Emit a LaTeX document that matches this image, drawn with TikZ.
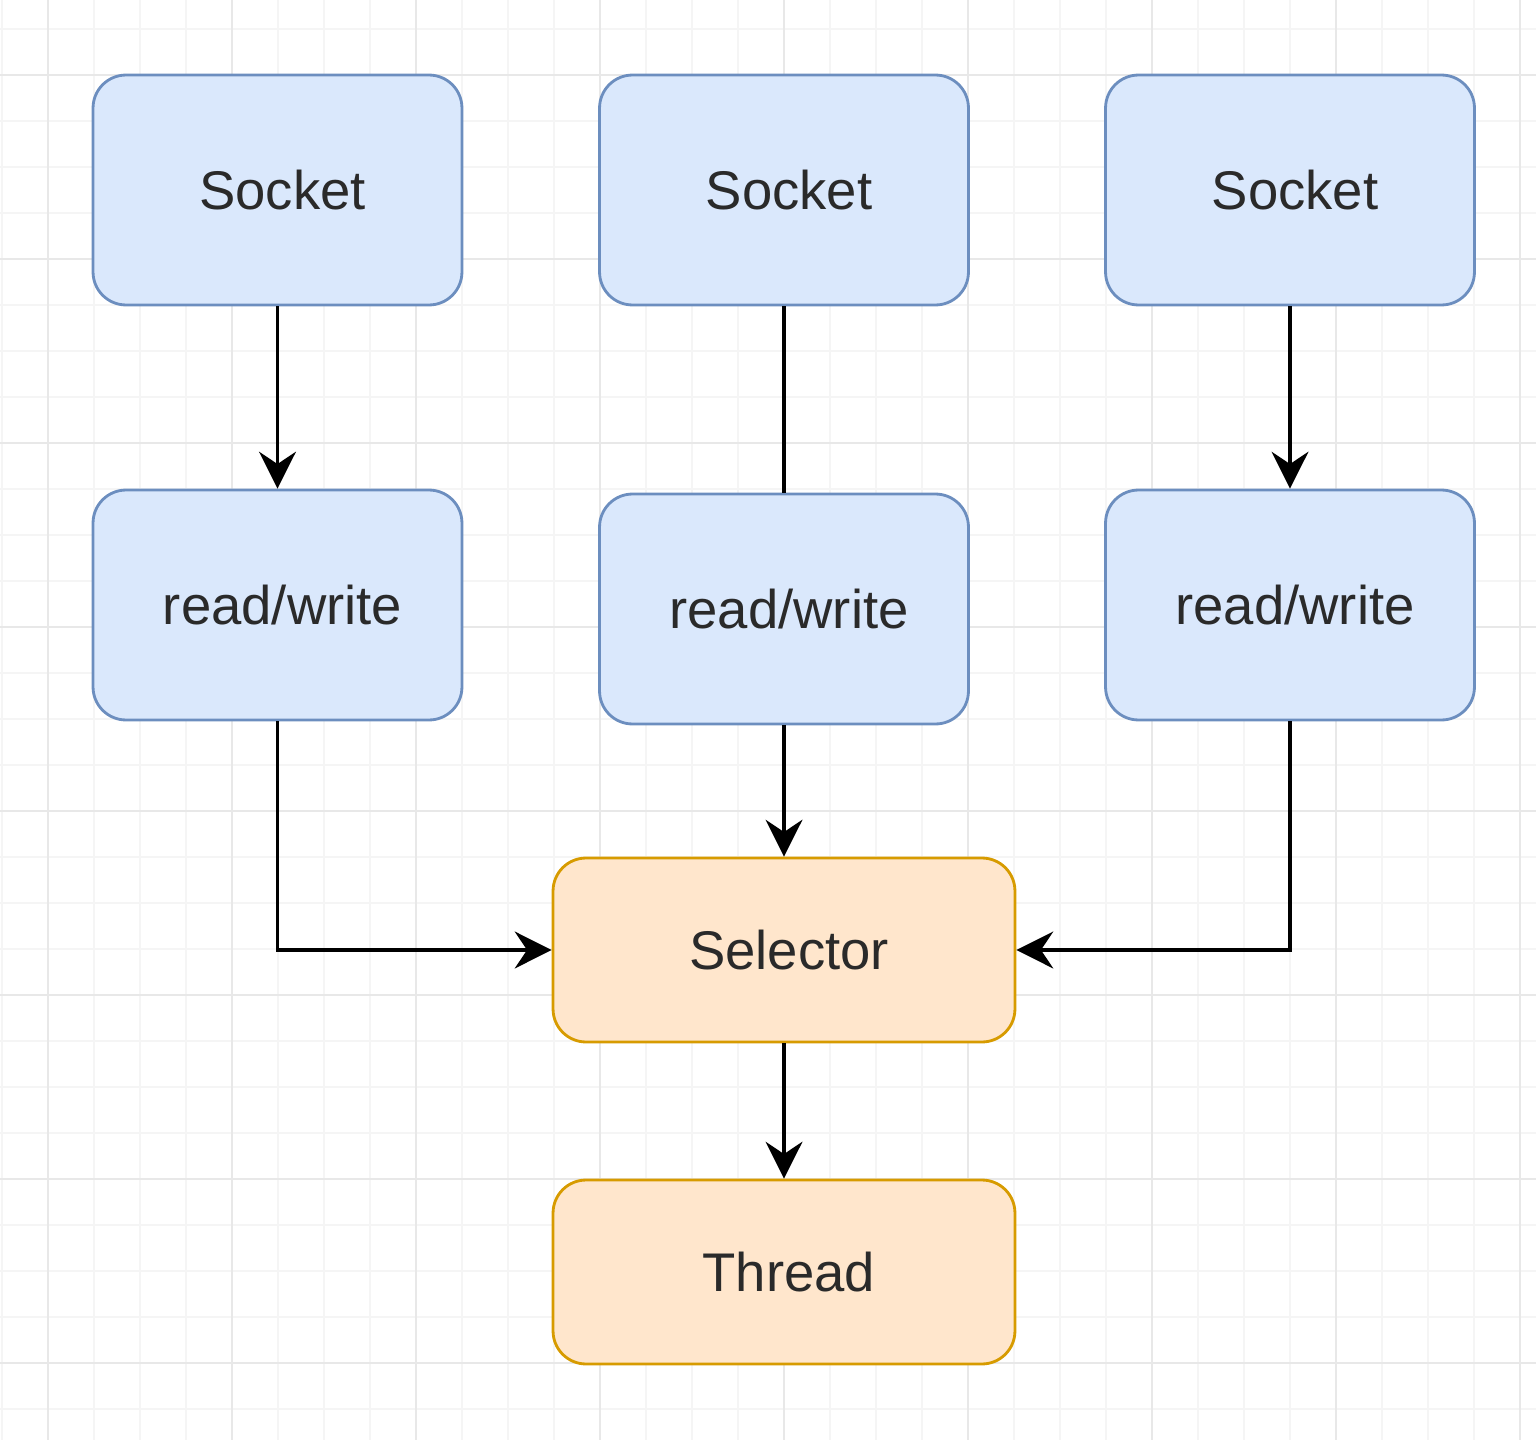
\documentclass[tikz,border=0pt]{standalone}
\usepackage{fontspec}
\setmainfont{Liberation Sans}
\usetikzlibrary{arrows.meta}
\definecolor{bluefill}{HTML}{DAE8FC}
\definecolor{bluedraw}{HTML}{6C8EBF}
\definecolor{orfill}{HTML}{FFE6CC}
\definecolor{ordraw}{HTML}{D79B00}
\definecolor{gridminor}{HTML}{F5F5F5}
\definecolor{gridmajor}{HTML}{E8E8E8}
\definecolor{txt}{HTML}{2A2A2A}
\tikzset{
  bluebox/.style={draw=bluedraw, fill=bluefill, line width=1.6pt, rounded corners=0.66cm,
    minimum width=7.38cm, minimum height=4.6cm, inner sep=0pt, text=txt,
    font=\fontsize{31}{37}\selectfont},
  orbox/.style={draw=ordraw, fill=orfill, line width=1.6pt, rounded corners=0.66cm,
    minimum width=9.24cm, minimum height=3.68cm, inner sep=0pt, text=txt,
    font=\fontsize{31}{37}\selectfont},
  conn/.style={line width=1.8pt, draw=black},
  arr/.style={conn, -{Stealth[length=21pt,width=21pt,inset=7pt]}}
}
\newcommand{\shifted}[1]{\hspace*{0.2cm}#1}
\begin{document}
\begin{tikzpicture}[x=0.02cm,y=-0.02cm]
\useasboundingbox (0,0) rectangle (1536,1440);
\fill[white] (0,0) rectangle (1536,1440);
% grid
\foreach \i in {0,...,33} {
  \draw[gridminor, line width=0.8pt] ({2+46*\i},0) -- ({2+46*\i},1440);
}
\foreach \i in {0,...,31} {
  \draw[gridminor, line width=0.8pt] (0,{29+46*\i}) -- (1536,{29+46*\i});
}
\foreach \x in {48,232,...,1536} {
  \draw[gridmajor, line width=1.2pt] (\x,0) -- (\x,1440);
}
\foreach \y in {75,259,...,1440} {
  \draw[gridmajor, line width=1.2pt] (0,\y) -- (1536,\y);
}
% nodes
\node[bluebox] (s1) at (277.5,190) {\shifted{Socket}};
\node[bluebox] (s2) at (784,190) {\shifted{Socket}};
\node[bluebox] (s3) at (1290,190) {\shifted{Socket}};
\node[bluebox] (r1) at (277.5,605) {\shifted{read/write}};
\node[bluebox] (r2) at (784,609) {\shifted{read/write}};
\node[bluebox] (r3) at (1290,605) {\shifted{read/write}};
\node[orbox] (sel) at (784,950) {\shifted{Selector}};
\node[orbox] (thr) at (784,1272) {\shifted{Thread}};
% connectors
\draw[arr] (s1) -- (r1);
\draw[conn] (s2) -- (r2);
\draw[arr] (s3) -- (r3);
\draw[arr] (r1.south) |- (sel.west);
\draw[arr] (r2) -- (sel);
\draw[arr] (r3.south) |- (sel.east);
\draw[arr] (sel) -- (thr);
\end{tikzpicture}
\end{document}
